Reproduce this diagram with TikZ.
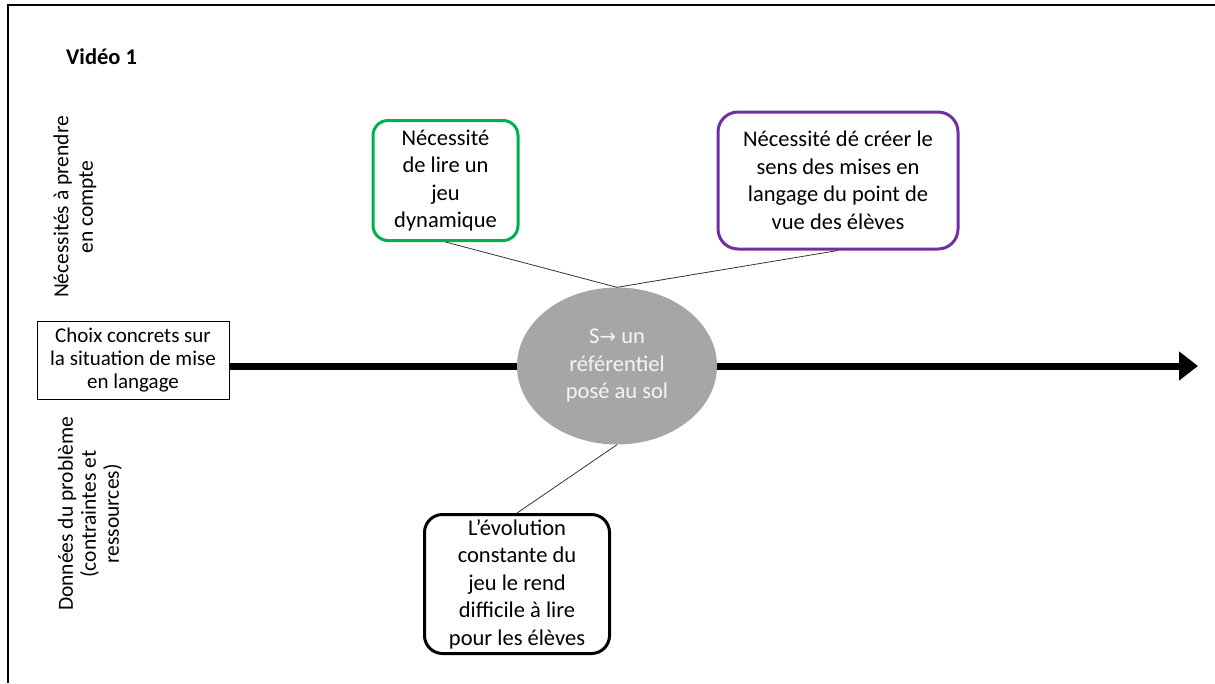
\documentclass[tikz,border=0pt]{standalone}
\usepackage{fontspec}
\setmainfont{Carlito}
\newfontfamily\dejavu{DejaVu Sans}
\usetikzlibrary{arrows.meta,shapes.geometric}
\definecolor{boxgreen}{RGB}{0,176,80}
\definecolor{boxpurple}{RGB}{112,48,160}
\definecolor{ellgray}{RGB}{166,166,166}
\definecolor{elltext}{RGB}{245,245,245}
\tikzset{
  body/.style={font={\fontsize{22.5}{27.5}\selectfont}, align=center, inner sep=0pt},
  sidelabel/.style={font={\fontsize{21.5}{24.5}\selectfont}, align=center, rotate=90, inner sep=0pt},
  roundbox/.style={body, draw, line width=3pt, rounded corners=16pt},
  conn/.style={draw=black!80, line width=0.8pt},
  mainarrow/.style={line width=7pt, -{Triangle[length=19pt,width=28pt]}},
}
\begin{document}
\begin{tikzpicture}[x=1pt,y=-1pt]
\useasboundingbox (0,0) rectangle (1215,683);
% frame (cut at right and bottom)
\draw[line width=2pt] (8,683) -- (8,5) -- (1215,5);

\node[font={\fontsize{22.5}{26}\selectfont\bfseries}, anchor=west, inner sep=0pt] (video) at (66,57) {Vidéo 1};

\node[sidelabel] (necl) at (75,207) {Nécessités à prendre\\en compte};
\node[sidelabel, font={\fontsize{21.5}{23}\selectfont}] (donl) at (90,514) {Données du problème\\(contraintes et\\ressources)};

\node[body, draw, line width=0.8pt, minimum width=192pt, minimum height=78pt, font={\fontsize{21}{23}\selectfont}] (choix) at (133,360) {Choix concrets sur\\la situation de mise\\en langage};

\coordinate (tip) at (1198,366);
\draw[mainarrow] (choix.east |- tip) -- (tip);

\node[ellipse, fill=ellgray, minimum width=200pt, minimum height=157pt, inner sep=0pt, body, text=elltext] (ell) at (617,366) {S{\dejavu\fontsize{20}{27}\selectfont→} un\\référentiel\\posé au sol};

\node[roundbox, draw=boxgreen, minimum width=145pt, minimum height=120pt, rounded corners=15pt] (green) at (445.5,180.5) {Nécessité\\de lire un\\jeu\\dynamique};
\node[roundbox, draw=boxpurple, minimum width=240pt, minimum height=137pt, rounded corners=20pt] (purple) at (838,180.5) {Nécessité dé créer le\\sens des mises en\\langage du point de\\vue des élèves};
\node[roundbox, draw=black, minimum width=185pt, minimum height=139pt, rounded corners=18pt] (evol) at (517,584) {L’évolution\\constante du\\jeu le rend\\difficile à lire\\pour les élèves};

\draw[conn] (green.south) -- (ell.north);
\draw[conn] (purple.south) -- (ell.north);
\draw[conn] (evol.north) -- (ell.south);
\end{tikzpicture}
\end{document}
